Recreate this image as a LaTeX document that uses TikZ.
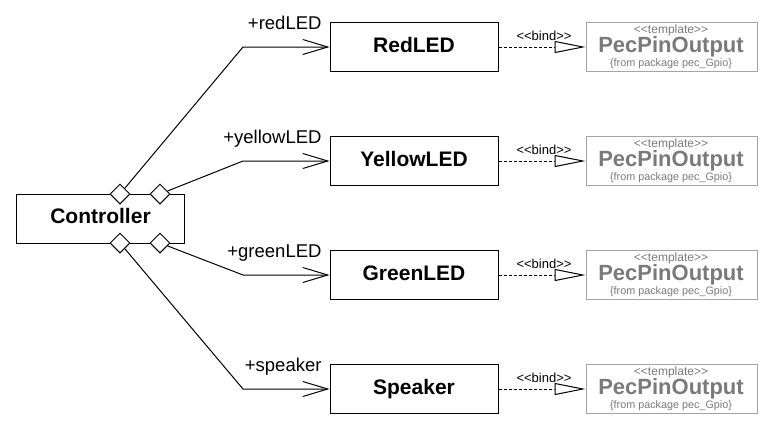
\documentclass[tikz,border=0pt]{standalone}
\usepackage{fontspec}
\setmainfont{Liberation Sans}
\usetikzlibrary{arrows.meta,shapes.geometric}
\definecolor{tmplgray}{RGB}{122,122,122}
\definecolor{tmplframe}{RGB}{165,165,165}
\newcommand{\stereo}[1]{<\kern0pt<#1>\kern0pt>}
\newcommand{\namefont}{\fontsize{21}{24}\bfseries\selectfont}
\newcommand{\rolefont}{\fontsize{18.5}{22}\selectfont}

\begin{document}
\begin{tikzpicture}[x=1pt,y=-1pt,line width=1pt,line join=miter,
  classbox/.style={draw,minimum width=168pt,minimum height=49pt,inner sep=0pt,
    font=\namefont,text height=15pt,text depth=5pt},
  tmplbox/.style={draw=tmplframe,minimum width=171pt,minimum height=49pt,inner sep=0pt},
  tmplsmall/.style={inner sep=0pt,text=tmplgray,font=\fontsize{12}{14}\selectfont},
  tmplname/.style={inner sep=0pt,text=tmplgray,font=\fontsize{22}{26}\bfseries\selectfont},
  tmplpkg/.style={inner sep=0pt,text=tmplgray,font=\fontsize{10.8}{13}\selectfont},
  agg/.style={diamond,draw,fill=white,minimum width=20pt,minimum height=20pt,inner sep=0pt},
  rolelbl/.style={inner sep=0pt,font=\rolefont},
  bindlbl/.style={inner sep=0pt,font=\fontsize{13}{15}\selectfont},
  assoc/.style={-{Straight Barb[length=25pt,width=15pt]}},
  bindline/.style={dash pattern=on 3pt off 2pt,
    -{Triangle[open,length=31pt,width=12pt]}}]
  \useasboundingbox (0,0) rectangle (770,434);
  % controller with its four aggregation ends
  \node[classbox] (ctrl) at (100.5,218.5) {Controller};
  \node[agg] (aggTL) at (120,194) {};
  \node[agg] (aggTR) at (160,194) {};
  \node[agg] (aggBL) at (120,243) {};
  \node[agg] (aggBR) at (160,243) {};
  % parts, bound templates
  \foreach \name/\cls/\role/\agg/\y in {red/RedLED/redLED/aggTL/47,
      yellow/YellowLED/yellowLED/aggTR/161,
      green/GreenLED/greenLED/aggBR/275,
      spk/Speaker/speaker/aggBL/389}{
    \node[classbox] (\name) at (414,\y) {\cls};
    \node[tmplbox] (\name-tpl) at (671.5,\y) {};
    \node[tmplsmall,anchor=base] (\name-st) at (671,\y-14) {\stereo{template}};
    \node[tmplname,anchor=base] (\name-tn) at (671,\y+5) {PecPinOutput};
    \node[tmplpkg,anchor=base] (\name-pk) at (671,\y+19.5) {\{from package pec\_Gpio\}};
    \node[rolelbl,anchor=base east] (\name-role) at (322,\y-18) {+\role};
    \coordinate (\name-bend) at (243,\y);
    \draw[assoc] (\agg) -- (\name-bend) -- (\name);
    \draw[bindline] (\name) -- (\name-tpl);
    \node[bindlbl,anchor=base] (\name-bind) at (544,\y-7) {\stereo{bind}};
  }
\end{tikzpicture}
\end{document}
